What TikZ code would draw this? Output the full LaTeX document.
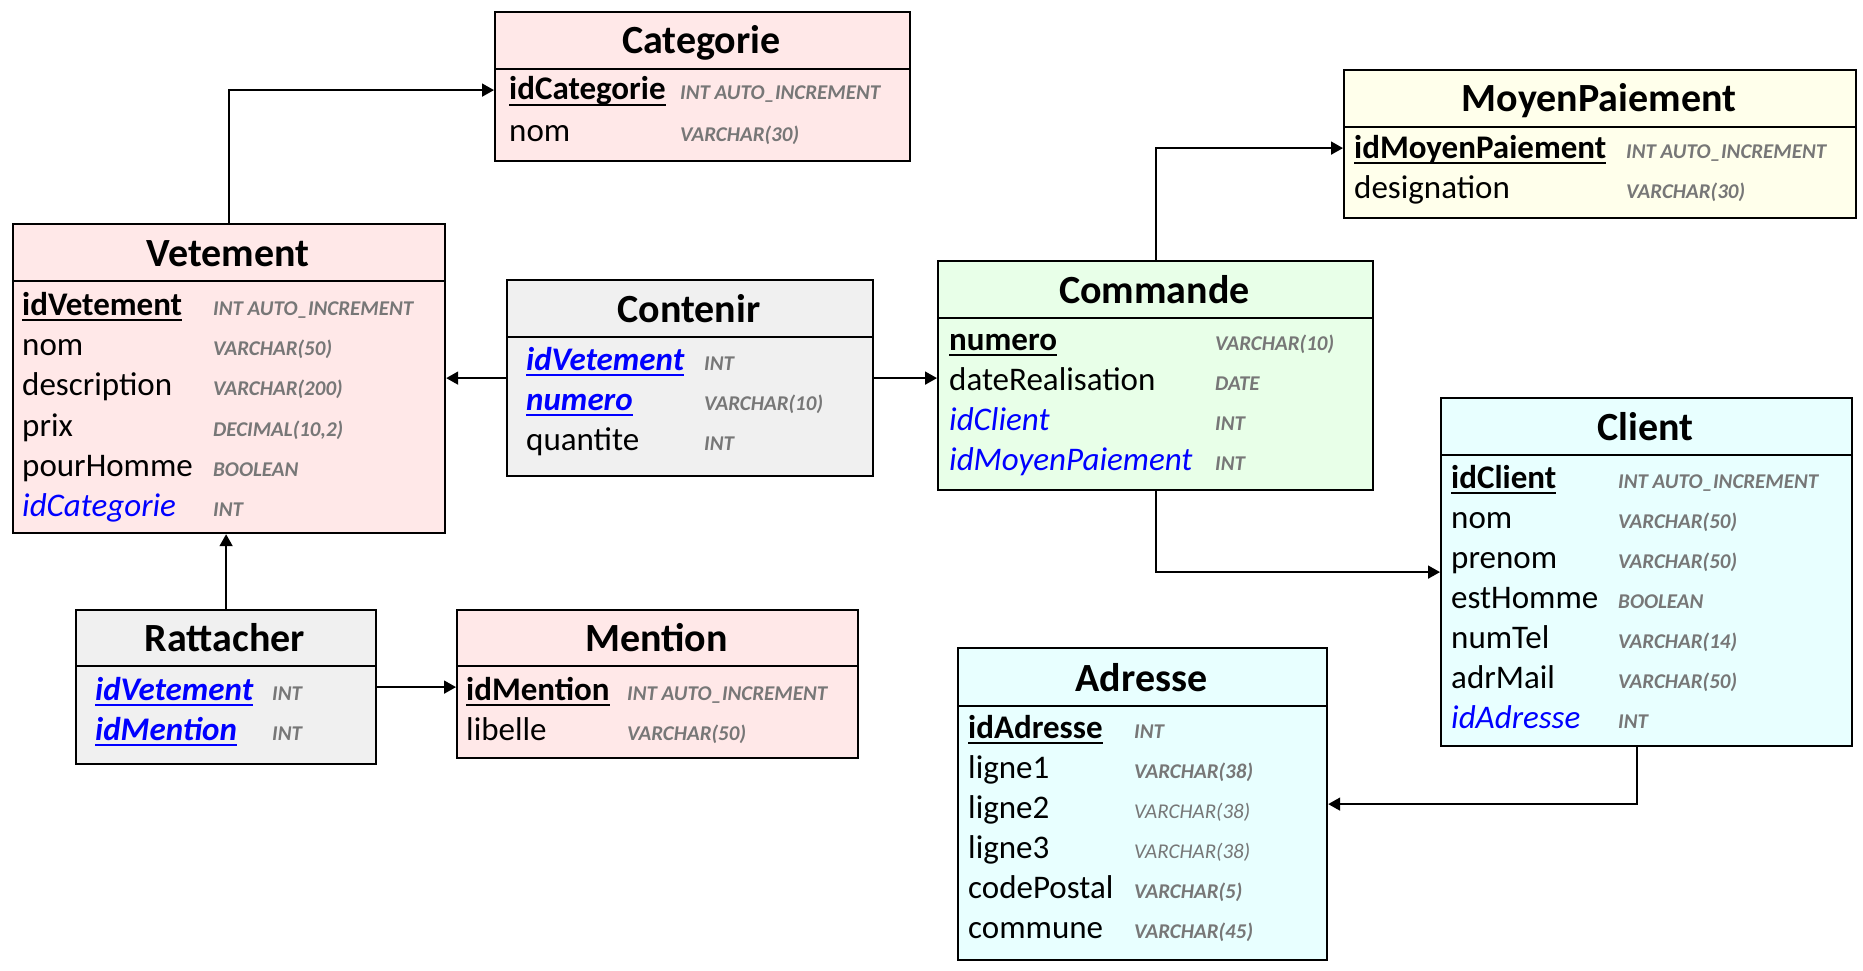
\documentclass[tikz,border=0pt]{standalone}
\usepackage{fontspec}
\setmainfont{Carlito}
\usetikzlibrary{arrows.meta}
\definecolor{cpink}{HTML}{FFE8E8}
\definecolor{cgray}{HTML}{F0F0F0}
\definecolor{cgreen}{HTML}{E8FFE8}
\definecolor{cyell}{HTML}{FFFFEB}
\definecolor{ccyan}{HTML}{E8FFFF}
\definecolor{tgray}{HTML}{777777}
\definecolor{fkblue}{HTML}{0000FF}
\newcommand\ttlfont{\fontsize{40}{44}\selectfont\bfseries}
\newcommand\fldfont{\fontsize{33}{38}\selectfont}
\newcommand\typfont{\fontsize{21}{24}\selectfont\itshape}
\tikzset{
  tbl/.style={draw=black, line width=2.2pt, inner sep=0pt, anchor=north west, rectangle},
  divl/.style={draw=black, line width=2.2pt},
  ttl/.style={font=\ttlfont, anchor=base, inner sep=0pt},
  fld/.style={font=\fldfont, anchor=base west, inner sep=0pt},
  fpk/.style={font=\fldfont\bfseries},
  fpkb/.style={font=\fldfont\bfseries\itshape, text=fkblue},
  ffk/.style={font=\fldfont\itshape, text=fkblue},
  typ/.style={font=\typfont\bfseries, text=tgray, anchor=base west, inner sep=0pt},
  typl/.style={font=\typfont, text=tgray, anchor=base west, inner sep=0pt},
  ulin/.style={line width=2pt},
  conn/.style={draw=black, line width=1.8pt, -{Triangle[length=12pt,width=13pt]}},
}
% box: name, fill, left, top, right, bottom, divider, title
\newcommand\erbox[8]{%
  \node[tbl, fill=#2, minimum width={(#5-#3)*1pt}, minimum height={(#6-#4)*1pt}] (#1) at (#3,#4) {};
  \draw[divl] (#3,#7) -- (#5,#7);
  \node[ttl] (#1-title) at ({(#3+#5)/2},#7-15) {#8};
}
% row: name, x, baseline, typex, style, text, type
\newcommand\frow[7]{%
  \node[fld,#5] (#1) at (#2,#3) {#6};
  \node[typ] (#1-t) at (#4,#3) {#7};
}
\newcommand\lrow[7]{%
  \node[fld,#5] (#1) at (#2,#3) {#6};
  \node[typl] (#1-t) at (#4,#3) {#7};
}
% pk row: same + underline colour
\newcommand\pkrow[8]{%
  \frow{#1}{#2}{#3}{#4}{#5}{#6}{#7}
  \draw[ulin,#8] ([yshift=-5pt]#1.base west) -- ([yshift=-5pt]#1.base east);
}
\begin{document}
\begin{tikzpicture}[x=1pt,y=-1pt]
\fill[white] (0,0) rectangle (1863,971);
\useasboundingbox (0,0) rectangle (1863,971);

% Categorie
\erbox{cat}{cpink}{494}{11}{909}{160}{69}{Categorie}
\pkrow{cat1}{509}{100}{680}{fpk}{idCategorie}{INT AUTO\_INCREMENT}{black}
\frow{cat2}{509}{142}{680}{}{nom}{VARCHAR(30)}

% Vetement
\erbox{vet}{cpink}{12}{223}{444}{532}{281}{Vetement}
\pkrow{vet1}{22}{315}{213}{fpk}{idVetement}{INT AUTO\_INCREMENT}{black}
\frow{vet2}{22}{355}{213}{}{nom}{VARCHAR(50)}
\frow{vet3}{22}{395}{213}{}{description}{VARCHAR(200)}
\frow{vet4}{22}{436}{213}{}{prix}{DECIMAL(10,2)}
\frow{vet5}{22}{476}{213}{}{pourHomme}{BOOLEAN}
\frow{vet6}{22}{516}{213}{ffk}{idCategorie}{INT}

% Contenir
\erbox{cont}{cgray}{506}{279}{872}{475}{337}{Contenir}
\pkrow{cont1}{526}{370}{704}{fpkb}{idVetement}{INT}{fkblue}
\pkrow{cont2}{526}{410}{704}{fpkb}{numero}{VARCHAR(10)}{fkblue}
\frow{cont3}{526}{450}{704}{}{quantite}{INT}

% Commande
\erbox{com}{cgreen}{937}{260}{1372}{489}{318}{Commande}
\pkrow{com1}{949}{350}{1215}{fpk}{numero}{VARCHAR(10)}{black}
\frow{com2}{949}{390}{1215}{}{dateRealisation}{DATE}
\frow{com3}{949}{430}{1215}{ffk}{idClient}{INT}
\frow{com4}{949}{470}{1215}{ffk}{idMoyenPaiement}{INT}

% MoyenPaiement
\erbox{mp}{cyell}{1343}{69}{1855}{217}{127}{MoyenPaiement}
\pkrow{mp1}{1354}{158}{1626}{fpk}{idMoyenPaiement}{INT AUTO\_INCREMENT}{black}
\frow{mp2}{1354}{198}{1626}{}{designation}{VARCHAR(30)}

% Client
\erbox{cli}{ccyan}{1440}{397}{1851}{745}{455}{Client}
\pkrow{cli1}{1451}{488}{1618}{fpk}{idClient}{INT AUTO\_INCREMENT}{black}
\frow{cli2}{1451}{528}{1618}{}{nom}{VARCHAR(50)}
\frow{cli3}{1451}{568}{1618}{}{prenom}{VARCHAR(50)}
\frow{cli4}{1451}{608}{1618}{}{estHomme}{BOOLEAN}
\frow{cli5}{1451}{648}{1618}{}{numTel}{VARCHAR(14)}
\frow{cli6}{1451}{688}{1618}{}{adrMail}{VARCHAR(50)}
\frow{cli7}{1451}{728}{1618}{ffk}{idAdresse}{INT}

% Adresse
\erbox{adr}{ccyan}{957}{647}{1326}{959}{706}{Adresse}
\pkrow{adr1}{968}{738}{1134}{fpk}{idAdresse}{INT}{black}
\frow{adr2}{968}{778}{1134}{}{ligne1}{VARCHAR(38)}
\lrow{adr3}{968}{818}{1134}{}{ligne2}{VARCHAR(38)}
\lrow{adr4}{968}{858}{1134}{}{ligne3}{VARCHAR(38)}
\frow{adr5}{968}{898}{1134}{}{codePostal}{VARCHAR(5)}
\frow{adr6}{968}{938}{1134}{}{commune}{VARCHAR(45)}

% Rattacher
\erbox{rat}{cgray}{75}{609}{375}{763}{666}{Rattacher}
\pkrow{rat1}{95}{700}{272}{fpkb}{idVetement}{INT}{fkblue}
\pkrow{rat2}{95}{740}{272}{fpkb}{idMention}{INT}{fkblue}

% Mention
\erbox{men}{cpink}{456}{609}{857}{757}{666}{Mention}
\pkrow{men1}{466}{700}{627}{fpk}{idMention}{INT AUTO\_INCREMENT}{black}
\frow{men2}{466}{740}{627}{}{libelle}{VARCHAR(50)}

% connectors
\draw[conn] (vet.north) |- ([yshift=-3.5pt]cat.west);
\draw[conn] (cont.west) -- (cont.west -| vet.east);
\draw[conn] (cont.east) -- (cont.east -| com.west);
\draw[conn] (com.north) |- ([yshift=-4pt]mp.west);
\draw[conn] (com.south) |- (cli.west);
\draw[conn] ([xshift=-10pt]cli.south) |- (adr.east);
\draw[conn] (rat.north) -- (rat.north |- vet.south);
\draw[conn] (rat.east) -- (rat.east -| men.west);
\end{tikzpicture}
\end{document}
